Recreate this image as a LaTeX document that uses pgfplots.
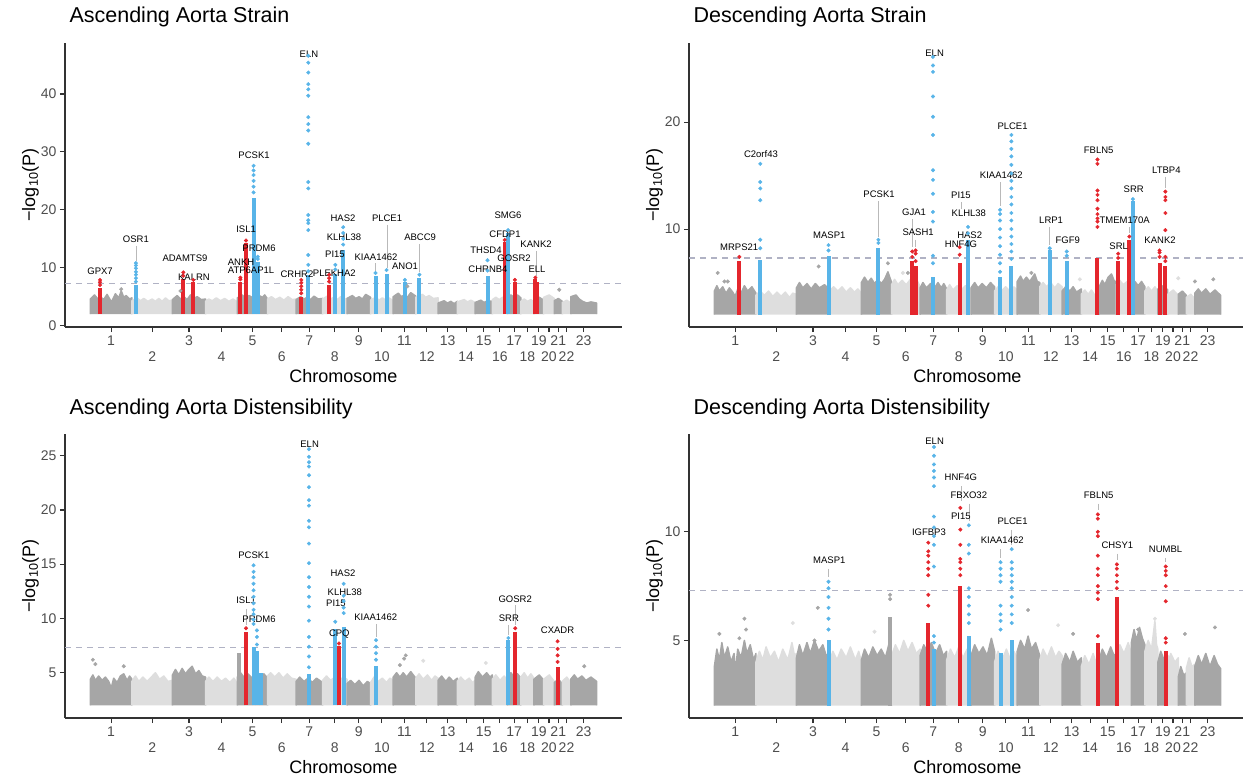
\documentclass[border=0pt]{standalone}
\usepackage{fontspec}
\setmainfont{Liberation Sans}
\usepackage{pgfplots}
\pgfplotsset{compat=1.18}

\definecolor{mred}{RGB}{228,38,45}
\definecolor{mblue}{RGB}{88,180,232}
\definecolor{mdark}{RGB}{166,166,166}
\definecolor{mlight}{RGB}{222,222,222}
\definecolor{msig}{RGB}{176,178,196}
\definecolor{mlead}{RGB}{185,185,185}
\definecolor{mtick}{RGB}{77,77,77}

% background blocks: start, end, top outline
\newcommand\bgd[3]{\addplot[draw=mdark,fill=mdark,line width=1.5pt,line join=round] coordinates {(#1,2) #3 (#2,2)};}
\newcommand\bgl[3]{\addplot[draw=mlight,fill=mlight,line width=1.5pt,line join=round] coordinates {(#1,2) #3 (#2,2)};}
% locus column: colour, position, top of dense part
\newcommand\col[3]{\addplot[#1,line width=4pt] coordinates {(#2,2) (#2,#3)};}
\newcommand\pts[2]{\addplot[only marks,mark=*,mark size=1.8pt,color=#1] coordinates {#2};}
\newcommand\gl[3]{\node[font=\fontsize{9.5}{11}\selectfont,inner sep=0pt] at (axis cs:#1,#2) {#3};}
\newcommand\ld[3]{\draw[mlead,line width=0.6pt] (axis cs:#1,#2) -- (axis cs:#1,#3);}
\newcommand\sig{\addplot[msig,line width=1.2pt,dash pattern=on 6pt off 5pt] coordinates {(-152,7.3) (3186,7.3)};}

\pgfplotsset{panel/.style={
  scale only axis, width=557pt, height=284pt, anchor=north west,
  xmin=-152, xmax=3186, clip=false,
  axis lines=left, axis line style={-, draw=black!80, line width=1.1pt},
  tick align=outside, major tick length=5pt,
  every tick/.style={black!80, line width=1.1pt},
  tick label style={font=\fontsize{14}{16}\selectfont, text=mtick},
  /pgf/number format/assume math mode=true,
  xtick={124.5,591,971.5,1312.5,1608.5,1882.5,2141.5,2357.5,2539.5,2687.5,2804,2956.5},
  xticklabels={1,3,5,7,9,11,13,15,17,19,21,23},
  extra x ticks={370.5,785.5,1147.5,1465,1747,2017,2252.5,2454,2619,2748.5,2853.5},
  extra x tick labels={2,4,6,8,10,12,14,16,18,20,22},
  extra x tick style={xticklabel style={yshift=-16pt}},
  xticklabel style={anchor=base, yshift=-13pt},
  xlabel={Chromosome}, ylabel={−log\textsubscript{10}(P)},
  xlabel style={at={(axis description cs:0.5,0)}, anchor=base, yshift=-55pt, font=\fontsize{18}{21}\selectfont},
  ylabel style={at={(axis description cs:-0.062,0.5)}, anchor=center, font=\fontsize{18}{21}\selectfont},
  title style={at={(axis description cs:0,1)}, anchor=base west, xshift=1pt, yshift=14pt, font=\fontsize{21.5}{25}\selectfont},
}}

\begin{document}
\begin{tikzpicture}
\useasboundingbox (0pt,0pt) rectangle (1243pt,-776pt);

% ---------------- Ascending Aorta Strain
\begin{axis}[panel, at={(65pt,-43pt)}, ymin=-0.23, ymax=48.8, ytick={0,10,20,30,40}, title={Ascending Aorta Strain}]
\bgd{0}{249}{(0,4.6)(25,5.3)(45,4.6)(60,5.0)(80,4.5)(100,5.4)(118,4.5)(125,4.0)(150,5.5)(170,4.8)(185,6.0)(200,4.9)(215,5.2)(235,4.6)(249,4.8)}
\bgl{249}{492}{(249,4.3)(280,4.8)(300,4.3)(320,4.7)(345,4.2)(370,4.6)(390,4.2)(410,4.7)(430,4.2)(450,4.8)(470,4.3)(492,4.4)}
\bgd{492}{690}{(492,4.5)(520,5.2)(540,4.6)(560,5.0)(580,4.5)(600,5.3)(620,4.7)(640,5.0)(665,4.5)(690,4.6)}
\bgl{690}{881}{(690,4.2)(710,4.6)(730,4.3)(755,4.8)(780,4.3)(805,4.7)(830,4.2)(855,4.6)(881,4.1)}
\bgd{881}{1062}{(881,4.8)(910,5.3)(930,4.8)(950,5.2)(975,4.8)(1000,5.4)(1030,4.9)(1045,5.3)(1062,4.6)}
\bgl{1062}{1233}{(1062,4.6)(1085,5.0)(1110,4.5)(1135,4.9)(1160,4.4)(1185,5.0)(1210,4.5)(1233,4.6)}
\bgd{1233}{1392}{(1233,4.5)(1260,5.0)(1280,4.6)(1300,4.9)(1320,4.5)(1340,5.1)(1365,4.6)(1392,4.7)}
\bgl{1392}{1538}{(1392,4.6)(1420,5.1)(1440,4.6)(1460,4.9)(1480,4.5)(1500,5.0)(1520,4.5)(1538,4.7)}
\bgd{1538}{1679}{(1538,4.7)(1570,5.2)(1590,4.7)(1610,5.0)(1630,4.6)(1650,5.4)(1679,4.9)}
\bgl{1679}{1815}{(1679,4.4)(1710,4.9)(1730,4.4)(1750,4.8)(1770,4.4)(1790,4.8)(1815,4.3)}
\bgd{1815}{1950}{(1815,5.0)(1845,5.6)(1865,5.0)(1880,5.3)(1900,4.9)(1920,5.7)(1950,5.1)}
\bgl{1950}{2084}{(1950,4.9)(1990,5.4)(2010,4.9)(2030,5.2)(2055,4.7)(2084,4.8)}
\bgd{2084}{2199}{(2084,3.9)(2120,4.3)(2140,3.9)(2160,4.2)(2180,3.8)(2199,4.2)}
\bgl{2199}{2306}{(2199,4.1)(2240,4.5)(2260,4.1)(2280,4.4)(2306,4.0)}
\bgd{2306}{2409}{(2306,4.0)(2340,4.4)(2360,4.0)(2380,4.3)(2409,4.2)}
\bgl{2409}{2499}{(2409,4.5)(2430,4.9)(2450,4.5)(2470,4.9)(2499,4.4)}
\bgd{2499}{2580}{(2499,4.9)(2520,5.3)(2540,4.9)(2560,5.3)(2580,4.8)}
\bgl{2580}{2658}{(2580,4.2)(2600,4.6)(2620,4.2)(2640,4.5)(2658,4.1)}
\bgd{2658}{2717}{(2658,4.6)(2690,4.9)(2717,4.4)}
\bgl{2717}{2780}{(2717,4.9)(2750,5.3)(2780,4.7)}
\bgd{2780}{2828}{(2780,4.3)(2805,4.7)(2828,4.2)}
\bgl{2828}{2879}{(2828,4.0)(2855,4.4)(2879,3.9)}
\bgd{2879}{3034}{(2879,5.0)(2910,5.3)(2930,4.6)(2950,4.2)(2975,3.9)(3000,4.1)(3034,3.9)}
\pts{mdark}{(540,6.0)(1900,6.8)(2810,6.2)(185,6.3)}
\sig
\col{mred}{58}{6.5}     \pts{mred}{(58,7.0)(58,7.5)(58,7.9)}
\col{mblue}{273}{7.0}   \pts{mblue}{(273,7.6)(273,8.2)(273,8.8)(273,9.3)(273,9.9)(273,10.4)(273,10.8)}
\col{mred}{557}{8.0}    \pts{mred}{(557,8.6)(557,9.2)}
\col{mred}{617}{7.5}    \pts{mred}{(617,7.9)}
\col{mred}{899}{7.6}    \pts{mred}{(899,8.0)(899,8.3)}
\col{mred}{933}{14.2}   \pts{mred}{(933,14.7)}
\col{mblue}{978}{22}    \pts{mblue}{(978,23)(978,24)(978,25)(978,26)(978,26.8)(978,27.6)}
\col{mblue}{1003}{11.0} \pts{mblue}{(1003,11.5)(1003,11.9)}
\col{mred}{1264}{5.0}   \pts{mred}{(1264,5.6)(1264,6.2)(1264,6.8)(1264,7.4)(1264,7.9)}
\col{mblue}{1306}{8.8}  \pts{mblue}{(1306,9.4)(1306,10.5)(1306,12.2)(1306,16.5)(1306,17.7)(1306,18.2)(1306,19.1)(1306,23.7)(1306,24.8)(1306,31.4)(1306,33.7)(1306,34.8)(1306,36)(1306,39.7)(1306,40.8)(1306,41.7)(1306,43.7)(1306,45.4)(1306,46.6)}
\col{mred}{1431}{7.0}   \pts{mred}{(1431,7.6)(1431,8.2)(1431,8.8)}
\col{mblue}{1468}{9.0}  \pts{mblue}{(1468,9.7)(1468,10.5)}
\col{mblue}{1515}{13.0} \pts{mblue}{(1515,14)(1515,15)(1515,16)(1515,17)}
\col{mblue}{1709}{8.5}  \pts{mblue}{(1709,9.1)}
\col{mblue}{1775}{9.0}  \pts{mblue}{(1775,9.6)}
\col{mblue}{1885}{7.5}  \pts{mblue}{(1885,7.9)}
\col{mblue}{1972}{8.3}  \pts{mblue}{(1972,8.8)}
\col{mblue}{2380}{8.5}  \pts{mblue}{(2380,9.5)(2380,11.3)}
\col{mred}{2483}{14.5}  \pts{mred}{(2483,14.8)}
\col{mblue}{2503}{16.0} \pts{mblue}{(2503,16.5)}
\col{mred}{2544}{7.6}   \pts{mred}{(2544,7.9)}
\col{mred}{2667}{8.0}   \col{mred}{2678}{7.6} \pts{mred}{(2667,8.3)}
\ld{273}{13.7}{11.2} \ld{1778}{17.4}{10.0} \ld{1972}{14.1}{9.2} \ld{2671}{12.9}{8.6} \ld{1709}{10.8}{9.5}
\gl{58}{9.45}{GPX7} \gl{273}{14.9}{OSR1} \gl{567}{11.7}{ADAMTS9} \gl{621}{8.4}{KALRN}
\gl{903}{11.0}{ANKH} \gl{963}{9.6}{ATP6AP1L} \gl{933}{16.7}{ISL1} \gl{1011}{13.4}{PRDM6}
\gl{981}{29.4}{PCSK1} \gl{1310}{46.9}{ELN} \gl{1238}{8.8}{CRHR2} \gl{1462}{9.1}{PLEKHA2}
\gl{1466}{12.4}{PI15} \gl{1520}{15.3}{KLHL38} \gl{1514}{18.6}{HAS2} \gl{1712}{11.9}{KIAA1462}
\gl{1778}{18.6}{PLCE1} \gl{1886}{10.3}{ANO1} \gl{1976}{15.3}{ABCC9} \gl{2371}{13.1}{THSD4}
\gl{2383}{9.8}{CHRNB4} \gl{2503}{19.1}{SMG6} \gl{2485}{15.8}{CFDP1} \gl{2671}{14.1}{KANK2}
\gl{2539}{11.7}{GOSR2} \gl{2677}{9.8}{ELL}
\end{axis}

% ---------------- Descending Aorta Strain
\begin{axis}[panel, at={(689pt,-43pt)}, ymin=0.84, ymax=27.4, ytick={10,20}, title={Descending Aorta Strain}]
\bgd{0}{249}{(0,4.2)(15,4.7)(30,4.2)(50,4.6)(70,4.0)(90,4.5)(110,4.1)(125,3.7)(140,4.4)(160,4.0)(180,4.7)(200,4.2)(225,4.6)(249,4.0)}
\bgl{249}{492}{(249,3.8)(275,4.2)(300,3.8)(325,4.2)(350,3.7)(375,4.1)(400,3.7)(425,4.1)(450,3.6)(470,4.0)(492,3.9)}
\bgd{492}{690}{(492,4.5)(510,5.0)(530,4.5)(555,4.9)(580,4.4)(605,4.9)(630,4.5)(660,4.8)(690,4.3)}
\bgl{690}{881}{(690,4.2)(715,4.6)(740,4.2)(765,4.6)(790,4.1)(815,4.5)(840,4.1)(860,4.4)(881,4.0)}
\bgd{881}{1062}{(881,5.0)(900,5.5)(920,5.0)(940,5.4)(960,4.9)(980,5.3)(1000,4.9)(1020,5.3)(1040,6.0)(1062,5.0)}
\bgl{1062}{1233}{(1062,4.8)(1080,5.3)(1100,4.8)(1125,5.2)(1150,4.8)(1175,5.3)(1200,4.8)(1215,5.2)(1233,4.6)}
\bgd{1233}{1392}{(1233,4.5)(1250,5.0)(1270,4.5)(1295,4.9)(1320,4.5)(1340,5.0)(1360,4.5)(1375,4.9)(1392,4.4)}
\bgl{1392}{1538}{(1392,4.3)(1410,4.8)(1430,4.3)(1455,4.7)(1480,4.3)(1505,4.7)(1538,4.4)}
\bgd{1538}{1679}{(1538,4.5)(1560,5.0)(1580,4.5)(1605,4.9)(1630,4.5)(1655,5.0)(1679,4.6)}
\bgl{1679}{1815}{(1679,4.2)(1700,4.6)(1720,4.2)(1745,4.6)(1770,4.2)(1795,4.6)(1815,4.3)}
\bgd{1815}{1950}{(1815,5.1)(1835,5.6)(1850,5.1)(1870,5.5)(1890,5.1)(1920,5.8)(1935,5.1)(1950,5.0)}
\bgl{1950}{2084}{(1950,4.6)(1970,5.0)(1990,4.6)(2015,5.0)(2040,4.5)(2060,4.9)(2084,4.6)}
\bgd{2084}{2199}{(2084,4.2)(2105,4.6)(2130,4.2)(2150,4.6)(2170,4.1)(2199,4.4)}
\bgl{2199}{2306}{(2199,3.9)(2220,4.3)(2240,3.9)(2260,4.3)(2280,3.8)(2306,4.0)}
\bgd{2306}{2409}{(2306,4.6)(2325,5.2)(2340,4.8)(2360,5.5)(2380,5.8)(2395,5.2)(2409,5.0)}
\bgl{2409}{2499}{(2409,4.8)(2430,5.2)(2450,4.8)(2475,5.1)(2499,4.6)}
\bgd{2499}{2580}{(2499,4.8)(2520,5.1)(2540,4.7)(2560,5.1)(2580,4.6)}
\bgl{2580}{2658}{(2580,4.2)(2600,4.6)(2620,4.2)(2640,4.6)(2658,4.1)}
\bgd{2658}{2717}{(2658,4.4)(2690,4.7)(2717,4.3)}
\bgl{2717}{2780}{(2717,3.9)(2750,4.3)(2780,3.8)}
\bgd{2780}{2828}{(2780,3.9)(2805,4.2)(2828,3.8)}
\bgl{2828}{2879}{(2828,3.6)(2855,3.9)(2879,3.5)}
\bgd{2879}{3034}{(2879,4.0)(2900,4.4)(2920,4.0)(2945,4.4)(2970,3.9)(3000,4.3)(3034,3.8)}
\pts{mdark}{(20,5.9)(60,5.1)(80,5.1)(625,6.5)(1040,6.8)(1160,5.9)(1900,5.9)(2880,5.1)(2990,5.3)}
\pts{mlight}{(1130,5.9)(2190,5.3)(2780,5.4)}
\sig
\col{mred}{150}{7.0}    \pts{mred}{(150,7.4)}
\col{mblue}{275}{7.1}   \pts{mblue}{(275,8.2)(275,9.0)(275,12.7)(275,13.8)(275,14.4)(275,16.1)}
\col{mblue}{684}{7.5}   \pts{mblue}{(684,8.0)(684,8.5)}
\col{mblue}{983}{8.2}   \pts{mblue}{(983,8.7)(983,9.0)}
\col{mred}{1186}{7.0}   \pts{mred}{(1186,7.4)(1186,7.9)}
\col{mred}{1206}{6.5}   \pts{mred}{(1206,7.0)(1206,7.7)(1206,8.0)}
\col{mblue}{1310}{5.5}  \pts{mblue}{(1310,6.8)(1310,7.5)(1310,10.7)(1310,11.6)(1310,13.3)(1310,14.6)(1310,15.5)(1310,18.8)(1310,20.5)(1310,22.4)(1310,24.7)(1310,25.3)(1310,26.1)}
\col{mred}{1470}{6.8}   \pts{mred}{(1470,7.6)(1470,8.3)}
\col{mblue}{1520}{9.0}  \pts{mblue}{(1520,9.6)(1520,10.2)}
\col{mblue}{1712}{5.5}  \pts{mblue}{(1712,6.0)(1712,6.8)(1712,7.6)(1712,8.4)(1712,9.2)(1712,10.0)(1712,10.8)(1712,11.4)(1712,11.8)}
\col{mblue}{1780}{6.5}  \pts{mblue}{(1780,7.2)(1780,7.9)(1780,8.6)(1780,9.3)(1780,10.0)(1780,10.8)(1780,11.5)(1780,12.3)(1780,13.0)(1780,13.8)(1780,14.5)(1780,15.2)(1780,16.0)(1780,16.8)(1780,17.5)(1780,18.2)(1780,18.8)}
\col{mblue}{2010}{8.0}  \pts{mblue}{(2010,8.2)}
\col{mblue}{2112}{7.0}  \pts{mblue}{(2112,7.5)(2112,7.9)}
\col{mred}{2296}{7.3}   \pts{mred}{(2296,10.2)(2296,10.7)(2296,11.0)(2296,11.4)(2296,11.9)(2296,12.7)(2296,13.2)(2296,13.6)(2296,16.1)(2296,16.5)}
\col{mred}{2420}{7.0}   \pts{mred}{(2420,7.3)(2420,7.7)}
\col{mred}{2487}{9.0}   \pts{mred}{(2487,9.3)}
\col{mblue}{2508}{12.6} \pts{mblue}{(2508,12.8)}
\col{mred}{2668}{6.8}   \pts{mred}{(2668,7.4)(2668,7.8)(2668,8.0)}
\col{mred}{2703}{6.5}   \pts{mred}{(2703,7.0)(2703,7.4)(2703,9.9)(2703,11.5)(2703,12.7)(2703,13.0)(2703,13.5)}
\ld{983}{12.6}{9.3} \ld{1186}{10.9}{8.3} \ld{1206}{9.0}{8.3} \ld{1478}{12.5}{11.9}
\ld{1712}{14.4}{12.2} \ld{2010}{10.2}{8.5} \ld{2703}{14.9}{13.8} \ld{2487}{10.2}{9.6}
\gl{149}{8.3}{MRPS21} \gl{279}{17.0}{C2orf43} \gl{689}{9.4}{MASP1} \gl{987}{13.3}{PCSK1}
\gl{1197}{11.6}{GJA1} \gl{1221}{9.7}{SASH1} \gl{1320}{26.4}{ELN} \gl{1478}{13.2}{PI15}
\gl{1525}{11.5}{KLHL38} \gl{1530}{9.4}{HAS2} \gl{1478}{8.6}{HNF4G} \gl{1720}{15.0}{KIAA1462}
\gl{1787}{19.6}{PLCE1} \gl{2018}{10.8}{LRP1} \gl{2118}{9.0}{FGF9} \gl{2303}{17.4}{FBLN5}
\gl{2459}{10.8}{TMEM170A} \gl{2423}{8.4}{SRL} \gl{2513}{13.7}{SRR} \gl{2709}{15.5}{LTBP4}
\gl{2671}{9.0}{KANK2}
\end{axis}

% ---------------- Ascending Aorta Distensibility
\begin{axis}[panel, at={(65pt,-434pt)}, ymin=0.83, ymax=27.0, ytick={5,10,15,20,25}, title={Ascending Aorta Distensibility}]
\bgd{0}{249}{(0,4.4)(15,4.8)(30,4.3)(50,4.7)(70,4.3)(90,4.6)(110,4.2)(125,3.6)(140,4.5)(160,4.1)(180,4.7)(200,4.9)(220,4.3)(235,4.7)(249,4.4)}
\bgl{249}{492}{(249,4.2)(270,4.7)(290,4.2)(315,4.6)(340,4.2)(365,4.6)(390,5.0)(415,4.4)(440,4.7)(465,4.2)(492,4.3)}
\bgd{492}{690}{(492,4.8)(510,5.3)(530,4.8)(550,5.4)(570,4.9)(590,5.3)(610,5.6)(630,4.9)(650,5.2)(670,4.7)(690,4.6)}
\bgl{690}{881}{(690,4.2)(710,4.6)(735,4.2)(760,4.6)(785,4.2)(810,4.5)(835,4.1)(860,4.5)(881,4.0)}
\bgd{881}{1062}{(881,4.6)(900,5.0)(920,4.6)(945,4.9)(970,4.5)(995,4.9)(1020,4.5)(1040,4.9)(1062,4.5)}
\bgl{1062}{1233}{(1062,4.7)(1080,5.0)(1105,4.6)(1130,5.0)(1155,4.5)(1180,4.9)(1205,4.5)(1233,4.4)}
\bgd{1233}{1392}{(1233,4.2)(1255,4.6)(1280,4.2)(1305,4.5)(1330,4.1)(1355,4.5)(1392,4.1)}
\bgl{1392}{1538}{(1392,4.3)(1415,4.7)(1440,4.3)(1465,4.6)(1490,4.2)(1515,4.6)(1538,4.4)}
\bgd{1538}{1679}{(1538,4.0)(1560,4.3)(1585,3.9)(1610,4.3)(1635,3.8)(1660,4.2)(1679,4.0)}
\bgl{1679}{1815}{(1679,4.1)(1700,4.6)(1725,4.2)(1750,4.5)(1775,4.1)(1795,4.5)(1815,4.3)}
\bgd{1815}{1950}{(1815,4.6)(1835,5.0)(1855,4.6)(1875,5.0)(1895,4.6)(1920,5.1)(1950,4.5)}
\bgl{1950}{2084}{(1950,4.5)(1970,4.9)(1995,4.4)(2020,4.8)(2045,4.3)(2065,4.7)(2084,4.5)}
\bgd{2084}{2199}{(2084,4.3)(2105,4.7)(2130,4.2)(2150,4.6)(2175,4.2)(2199,4.5)}
\bgl{2199}{2306}{(2199,4.2)(2220,4.6)(2245,4.2)(2270,4.5)(2290,4.1)(2306,4.3)}
\bgd{2306}{2409}{(2306,4.6)(2325,5.1)(2350,4.6)(2375,5.0)(2395,4.6)(2409,4.8)}
\bgl{2409}{2499}{(2409,4.4)(2430,4.8)(2455,4.3)(2480,4.7)(2499,4.3)}
\bgd{2499}{2580}{(2499,4.6)(2520,5.0)(2540,4.6)(2560,4.9)(2580,4.5)}
\bgl{2580}{2658}{(2580,4.6)(2600,5.0)(2620,4.5)(2640,4.9)(2658,4.5)}
\bgd{2658}{2717}{(2658,4.4)(2690,4.8)(2717,4.3)}
\bgl{2717}{2780}{(2717,4.4)(2750,4.8)(2780,4.2)}
\bgd{2780}{2828}{(2780,4.1)(2805,4.4)(2828,4.0)}
\bgl{2828}{2879}{(2828,4.2)(2855,4.6)(2879,4.1)}
\bgd{2879}{3034}{(2879,4.4)(2900,4.8)(2920,4.4)(2945,4.7)(2970,4.3)(3000,4.6)(3034,4.2)}
\col{mdark}{891}{6.8}
\pts{mdark}{(15,6.2)(30,5.8)(200,5.6)(1855,5.7)(1880,6.3)(1890,6.6)(2960,5.6)}
\pts{mlight}{(1995,6.1)(2370,5.9)}
\sig
\col{mred}{933}{8.8}    \pts{mred}{(933,9.1)}
\col{mblue}{978}{7.4}   \pts{mblue}{(978,9.5)(978,9.9)(978,10.4)(978,10.8)(978,11.4)(978,12.0)(978,12.6)(978,13.2)(978,13.8)(978,14.3)(978,14.9)}
\col{mblue}{998}{7.0}   \pts{mblue}{(998,7.6)(998,8.3)(998,8.9)}
\col{mblue}{1020}{5.0}
\col{mblue}{1310}{4.9}  \pts{mblue}{(1310,5.5)(1310,6.5)(1310,7.4)(1310,8.3)(1310,9.8)(1310,11.1)(1310,12.0)(1310,12.9)(1310,13.8)(1310,15.1)(1310,16.9)(1310,18.4)(1310,19.0)(1310,20.4)(1310,20.9)(1310,22.1)(1310,23.2)(1310,24.0)(1310,24.4)(1310,24.9)(1310,25.6)}
\col{mblue}{1468}{9.0}  \pts{mblue}{(1468,9.7)}
\col{mred}{1490}{7.5}   \pts{mred}{(1490,7.7)}
\col{mblue}{1518}{9.2}  \pts{mblue}{(1518,10.5)(1518,11.0)(1518,11.6)(1518,12.1)(1518,13.2)}
\col{mblue}{1712}{5.6}  \pts{mblue}{(1712,6.2)(1712,6.8)(1712,7.4)(1712,8.0)}
\col{mblue}{2505}{8.0}  \pts{mblue}{(2505,8.2)}
\col{mred}{2546}{8.8}   \pts{mred}{(2546,9.1)}
\col{mred}{2800}{5.5}   \pts{mred}{(2800,6.0)(2800,6.6)(2800,7.2)(2800,7.9)}
\ld{933}{10.9}{9.4} \ld{1712}{9.5}{8.3} \ld{2546}{11.2}{9.4} \ld{2505}{9.4}{8.5}
\gl{933}{11.7}{ISL1} \gl{980}{15.8}{PCSK1} \gl{1011}{9.9}{PRDM6} \gl{1314}{26.1}{ELN}
\gl{1514}{14.2}{HAS2} \gl{1525}{12.4}{KLHL38} \gl{1472}{11.4}{PI15} \gl{1492}{8.6}{CPQ}
\gl{1710}{10.1}{KIAA1462} \gl{2546}{11.8}{GOSR2} \gl{2508}{10.0}{SRR} \gl{2800}{8.9}{CXADR}
\end{axis}

% ---------------- Descending Aorta Distensibility
\begin{axis}[panel, at={(689pt,-434pt)}, ymin=1.43, ymax=14.5, ytick={5,10}, title={Descending Aorta Distensibility}]
\bgd{0}{249}{(0,3.8)(15,4.6)(30,4.1)(45,4.9)(60,4.2)(80,4.7)(100,4.0)(118,4.4)(125,3.5)(140,4.6)(160,4.2)(180,5.0)(195,4.4)(215,4.8)(235,4.1)(249,4.4)}
\bgl{249}{492}{(249,4.0)(270,4.5)(290,4.1)(310,4.7)(335,4.2)(360,4.5)(385,4.0)(410,4.6)(440,4.1)(465,4.9)(480,4.3)(492,4.4)}
\bgd{492}{690}{(492,4.2)(510,4.8)(530,4.3)(555,4.9)(575,4.4)(600,5.0)(625,4.5)(650,4.8)(670,4.3)(690,4.4)}
\bgl{690}{881}{(690,4.0)(710,4.5)(735,4.1)(760,4.6)(790,4.2)(815,4.7)(845,4.1)(865,4.5)(881,4.0)}
\bgd{881}{1062}{(881,4.1)(900,4.6)(925,4.2)(950,4.7)(975,4.3)(1000,4.6)(1025,4.2)(1045,4.8)(1062,4.2)}
\bgl{1062}{1233}{(1062,4.3)(1085,4.8)(1110,4.4)(1135,5.0)(1160,4.5)(1185,4.9)(1210,4.4)(1233,4.6)}
\bgd{1233}{1392}{(1233,4.3)(1255,4.8)(1280,4.4)(1300,4.9)(1325,4.4)(1350,4.8)(1372,4.3)(1392,4.5)}
\bgl{1392}{1538}{(1392,4.1)(1415,4.6)(1440,4.2)(1465,4.7)(1490,4.2)(1515,4.6)(1538,4.3)}
\bgd{1538}{1679}{(1538,4.3)(1560,4.8)(1585,4.4)(1610,4.7)(1635,4.3)(1660,5.1)(1679,4.5)}
\bgl{1679}{1815}{(1679,4.0)(1700,4.5)(1725,4.1)(1750,4.6)(1775,4.1)(1795,4.5)(1815,4.2)}
\bgd{1815}{1950}{(1815,4.5)(1835,5.0)(1860,4.6)(1880,5.2)(1900,4.6)(1925,4.9)(1950,4.3)}
\bgl{1950}{2084}{(1950,4.1)(1970,4.6)(1995,4.2)(2020,4.7)(2045,4.2)(2065,4.5)(2084,4.3)}
\bgd{2084}{2199}{(2084,3.9)(2105,4.4)(2130,4.0)(2150,4.5)(2175,4.0)(2199,4.2)}
\bgl{2199}{2306}{(2199,3.8)(2220,4.3)(2245,3.9)(2270,4.4)(2290,3.9)(2306,4.1)}
\bgd{2306}{2409}{(2306,4.1)(2325,4.6)(2350,4.2)(2375,4.7)(2395,4.3)(2409,4.4)}
\bgl{2409}{2499}{(2409,4.3)(2430,4.8)(2455,4.4)(2480,4.9)(2499,4.4)}
\bgd{2499}{2580}{(2499,4.9)(2515,5.5)(2530,5.0)(2548,5.6)(2565,5.1)(2580,4.8)}
\bgl{2580}{2658}{(2580,4.5)(2600,5.0)(2620,4.6)(2640,5.9)(2650,4.8)(2658,4.6)}
\bgd{2658}{2717}{(2658,4.0)(2675,4.5)(2695,4.1)(2717,4.3)}
\bgl{2717}{2780}{(2717,3.9)(2735,4.4)(2760,4.0)(2780,4.2)}
\bgd{2780}{2828}{(2780,3.3)(2795,3.8)(2812,3.4)(2828,3.5)}
\bgl{2828}{2879}{(2828,3.7)(2845,4.2)(2862,3.8)(2879,3.9)}
\bgd{2879}{3034}{(2879,3.8)(2900,4.3)(2920,3.9)(2945,4.4)(2970,3.8)(2995,4.3)(3015,3.9)(3034,3.7)}
\col{mdark}{1053}{6.1}
\pts{mdark}{(30,5.3)(150,5.1)(180,6.0)(190,5.5)(620,6.5)(600,5.0)(1053,6.9)(1053,7.1)(1880,6.4)(2150,5.3)(2540,5.5)(2820,5.3)(3000,5.6)}
\pts{mlight}{(470,5.8)(960,5.4)(2060,5.7)(2640,6.0)}
\sig
\col{mblue}{684}{5.0}   \pts{mblue}{(684,5.5)(684,6.0)(684,6.5)(684,7.0)(684,7.4)(684,7.7)}
\col{mred}{1282}{5.8}   \pts{mred}{(1282,6.6)(1282,7.1)(1282,8.0)(1282,8.3)(1282,8.6)(1282,8.9)(1282,9.1)(1282,9.5)}
\col{mblue}{1316}{4.6}  \pts{mblue}{(1316,4.9)(1316,5.2)(1316,8.4)(1316,9.4)(1316,9.8)(1316,10.2)(1316,10.7)(1316,12.1)(1316,12.5)(1316,12.8)(1316,13.1)(1316,13.5)(1316,13.9)}
\col{mred}{1474}{7.5}   \pts{mred}{(1474,8.0)(1474,8.3)(1474,8.6)(1474,8.75)(1474,9.4)(1474,10.1)(1474,11.1)}
\col{mblue}{1525}{5.2}  \pts{mblue}{(1525,5.8)(1525,6.2)(1525,6.6)(1525,7.0)(1525,7.4)(1525,9.0)(1525,9.4)(1525,10.3)}
\col{mblue}{1715}{4.4}  \pts{mblue}{(1715,5.5)(1715,5.9)(1715,6.2)(1715,6.6)(1715,7.7)(1715,8.0)(1715,8.3)(1715,8.6)}
\col{mblue}{1782}{5.0}  \pts{mblue}{(1782,5.8)(1782,6.2)(1782,6.6)(1782,7.0)(1782,7.4)(1782,7.7)(1782,8.0)(1782,8.3)(1782,8.6)(1782,9.2)}
\col{mred}{2298}{4.9}   \pts{mred}{(2298,5.2)(2298,6.9)(2298,7.2)(2298,7.5)(2298,8.0)(2298,8.3)(2298,8.9)(2298,9.8)(2298,10.0)(2298,10.6)(2298,10.8)}
\col{mred}{2412}{7.0}   \pts{mred}{(2412,7.4)(2412,7.7)(2412,8.0)(2412,8.3)(2412,8.5)}
\col{mred}{2705}{4.5}   \pts{mred}{(2705,4.9)(2705,5.1)(2705,6.8)(2705,7.5)(2705,8.0)(2705,8.2)(2705,8.4)}
\ld{684}{8.3}{7.9} \ld{1477}{12.1}{11.4} \ld{1525}{11.3}{10.5} \ld{1782}{10.1}{9.4}
\ld{2298}{11.3}{11.0} \ld{2412}{9.0}{8.7} \ld{2705}{8.8}{8.6} \ld{1715}{9.2}{8.8}
\gl{689}{8.7}{MASP1} \gl{1286}{10.0}{IGFBP3} \gl{1320}{14.15}{ELN} \gl{1477}{12.5}{HNF4G}
\gl{1525}{11.7}{FBXO32} \gl{1477}{10.7}{PI15} \gl{1725}{9.6}{KIAA1462} \gl{1787}{10.5}{PLCE1}
\gl{2303}{11.7}{FBLN5} \gl{2415}{9.4}{CHSY1} \gl{2704}{9.2}{NUMBL}
\end{axis}
\end{tikzpicture}
\end{document}
